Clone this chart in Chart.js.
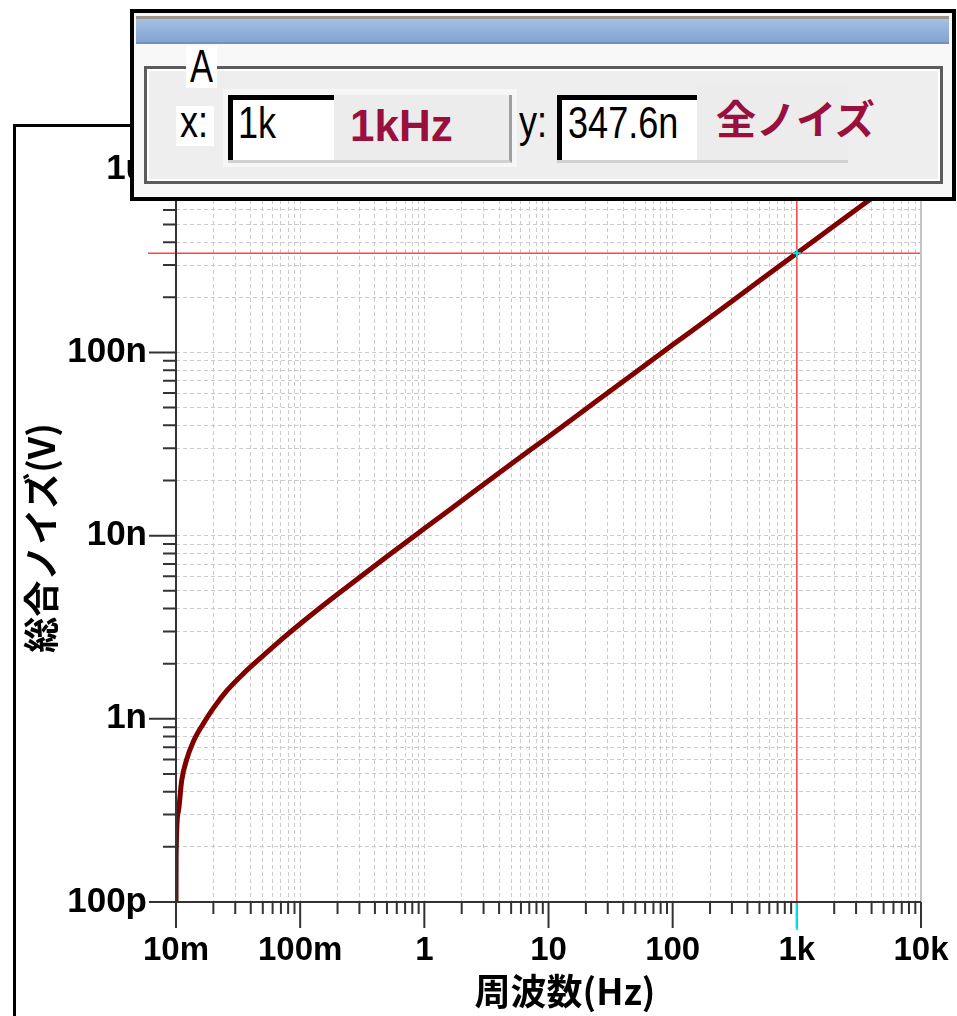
<!DOCTYPE html>
<html lang="ja">
<head>
<meta charset="utf-8">
<title>総合ノイズ</title>
<script src="https://cdn.jsdelivr.net/npm/chart.js@4.4.1/dist/chart.umd.min.js"></script>
<style>
  html, body { margin: 0; padding: 0; background: #fff; }
  body { width: 957px; height: 1016px; position: relative; overflow: hidden; font-family: "Liberation Sans", Arial, sans-serif; }
  #chart { position: absolute; left: 0; top: 0; }
  .abs { position: absolute; box-sizing: border-box; }
  .txt { position: absolute; line-height: 1; white-space: nowrap; transform-origin: 0 0; color: #000; }
  .mono { font-family: "Liberation Sans", Arial, sans-serif; font-size: 44px; transform: scaleX(0.82); }
  .red { color: #990f3d; font-weight: bold; }
</style>
</head>
<body>
<canvas id="chart" width="957" height="1016"></canvas>

<!-- outer frame of the graph window -->
<div class="abs" style="left:13px;top:124px;width:150px;height:900px;border-left:3px solid #000;border-top:3px solid #000;"></div>

<!-- cursor window -->
<div class="abs" style="left:130px;top:9px;width:826px;height:192px;border:4px solid #000;background:#f8f8f8;"></div>
<div class="abs" style="left:136px;top:16px;width:813px;height:28px;background:linear-gradient(#a6c0e2,#94b3da 45%,#84a4cf);border-top:3px solid #9d948c;border-bottom:2px solid #6f92c4;"></div>
<div class="abs" style="left:144px;top:66px;width:799px;height:118px;border:3px solid #5c5c5c;background:#eeeeee;box-shadow:inset 0 0 0 2px #fff;"></div>
<div class="abs" style="left:186px;top:46px;width:31px;height:42px;background:#fff;"></div>
<span class="txt mono" style="left:190px;top:43px;font-size:46px;transform:scaleX(0.75);">A</span>

<div class="abs" style="left:176px;top:106px;width:38px;height:40px;background:#fff;"></div>
<span class="txt mono" style="left:180px;top:100px;">x:</span>
<div class="abs" style="left:223px;top:89px;width:294px;height:78px;background:#f6f6f6;"></div>
<div class="abs" style="left:228px;top:95px;width:284px;height:68px;background:#ececec;border-right:3px solid #a0a0a0;border-bottom:3px solid #d0d0d0;"></div>
<div class="abs" style="left:228px;top:95px;width:106px;height:65px;background:#fff;border-left:5px solid #000;border-top:5px solid #000;"></div>
<span class="txt mono" style="left:238px;top:101px;">1k</span>
<span class="txt red" style="left:350px;top:104px;font-size:44px;">1kHz</span>

<span class="txt mono" style="left:519px;top:100px;">y:</span>
<div class="abs" style="left:697px;top:84px;width:151px;height:20px;background:#ececec;"></div>
<div class="abs" style="left:557px;top:95px;width:291px;height:68px;background:#ececec;border-bottom:3px solid #d0d0d0;"></div>
<div class="abs" style="left:557px;top:95px;width:140px;height:65px;background:#fff;border-left:5px solid #000;border-top:5px solid #000;"></div>
<span class="txt mono" style="left:568px;top:101px;">347.6n</span>
<span class="txt red" style="left:716px;top:97px;font-size:40px;font-family:'Noto Sans CJK JP',sans-serif;">全ノイズ</span>

<script>
// 全ノイズ (V) vs 周波数 (Hz)
const freqHz = [
  0.01, 0.01002, 0.01043, 0.01111, 0.01219, 0.01377, 0.01658, 0.01995,
  0.02558, 0.03478, 0.05038, 0.07776, 0.1197, 0.168, 0.2, 0.5,
  1, 2, 5, 10, 20, 50, 100, 200, 500, 1000, 2000, 5000, 10000,
];
const noiseV = [
  1.0e-10, 1.76e-10, 3.1e-10, 4.6e-10, 6.0e-10, 7.5e-10, 9.4e-10, 1.14e-9,
  1.42e-9, 1.76e-9, 2.21e-9, 2.86e-9, 3.64e-9, 4.37e-9, 4.79e-9, 7.69e-9,
  10.93e-9, 15.5e-9, 24.6e-9, 34.7e-9, 49.1e-9, 77.7e-9, 110e-9, 155e-9, 246e-9, 347.6e-9, 491e-9, 777e-9, 1.1e-6,
];

// axis decades and their labels
const xDecades = [0.01, 0.1, 1, 10, 100, 1000, 10000];
const xLabels = ['10m', '100m', '1', '10', '100', '1k', '10k'];
const yDecades = [1e-10, 1e-9, 1e-8, 1e-7, 1e-6];
const yLabels = ['100p', '1n', '10n', '100n', '1u'];
const yMax = 1.5e-6;

// cursor A
const cursorX = 1000;
const cursorY = 347.6e-9;

const xTitle = '周波数(Hz)';
const yTitle = '総合ノイズ(V)';

// 1..9 per decade for the log grid
function decadeTicks(decades) {
  const out = [];
  decades.forEach((d, i) => {
    if (i === decades.length - 1) { out.push(d); return; }
    for (let k = 1; k <= 9; k++) out.push(k * d);
  });
  return out;
}
const xTickVals = decadeTicks(xDecades);
const yTickVals = decadeTicks(yDecades);

const fontFamily = '"Liberation Sans", Arial, sans-serif';

// axis lines, tick marks, right border, cursor, titles
const axesPlugin = {
  id: 'axes',
  beforeDatasetsDraw(chart) {
    const { ctx, chartArea: a, scales: { x, y } } = chart;
    const px = x.getPixelForValue(cursorX);
    const py = y.getPixelForValue(cursorY);
    ctx.save();
    ctx.lineWidth = 1.5;
    ctx.strokeStyle = '#ff4545';
    ctx.beginPath();
    ctx.moveTo(a.left - 28, py); ctx.lineTo(a.right, py);
    ctx.moveTo(px, a.top); ctx.lineTo(px, a.bottom);
    ctx.stroke();
    ctx.restore();
  },
  afterDraw(chart) {
    const { ctx, chartArea: a, scales: { x, y } } = chart;
    ctx.save();
    // right border
    ctx.strokeStyle = '#c4c4c4';
    ctx.lineWidth = 2;
    ctx.beginPath(); ctx.moveTo(a.right, a.top); ctx.lineTo(a.right, a.bottom); ctx.stroke();

    ctx.strokeStyle = '#333';
    ctx.lineWidth = 2;
    ctx.beginPath();
    ctx.moveTo(a.left, a.top); ctx.lineTo(a.left, a.bottom); ctx.lineTo(a.right, a.bottom);
    x.ticks.forEach((t) => {
      const p = x.getPixelForValue(t.value);
      const len = xDecades.includes(t.value) ? 26 : 12;
      ctx.moveTo(p, a.bottom); ctx.lineTo(p, a.bottom + len);
    });
    y.ticks.forEach((t) => {
      const p = y.getPixelForValue(t.value);
      const len = yDecades.includes(t.value) ? 27 : 13;
      ctx.moveTo(a.left - len, p); ctx.lineTo(a.left, p);
    });
    ctx.stroke();

    // cursor on the axis + marker
    const px = x.getPixelForValue(cursorX);
    const py = y.getPixelForValue(cursorY);
    ctx.strokeStyle = '#00e5f0';
    ctx.lineWidth = 2;
    ctx.beginPath();
    ctx.moveTo(px, a.bottom + 1); ctx.lineTo(px, a.bottom + 28);
    ctx.moveTo(px - 4, py); ctx.lineTo(px + 4, py);
    ctx.moveTo(px, py - 4); ctx.lineTo(px, py + 4);
    ctx.stroke();

    // titles
    ctx.fillStyle = '#000';
    ctx.font = 'bold 36px "Noto Sans CJK JP", sans-serif';
    ctx.textAlign = 'center';
    ctx.textBaseline = 'middle';
    ctx.fillText(xTitle, 565, 991);
    ctx.translate(41, 538);
    ctx.rotate(-Math.PI / 2);
    ctx.fillText(yTitle, 0, 0);
    ctx.restore();
  },
};

const gridOpts = { color: '#cbcbcb', lineWidth: 1, drawTicks: false };

new Chart(document.getElementById('chart'), {
  type: 'line',
  data: {
    datasets: [{
      data: freqHz.map((f, i) => ({ x: f, y: noiseV[i] })),
      borderColor: '#800000',
      borderWidth: 5,
      pointRadius: 0,
      cubicInterpolationMode: 'monotone',
    }],
  },
  options: {
    responsive: false,
    animation: false,
    devicePixelRatio: 1,
    layout: { padding: { top: 137, left: 20, right: 36, bottom: 0 } },
    plugins: { legend: { display: false }, tooltip: { enabled: false } },
    scales: {
      x: {
        type: 'logarithmic',
        min: xDecades[0],
        max: xDecades[xDecades.length - 1],
        afterBuildTicks: (s) => { s.ticks = xTickVals.map((v) => ({ value: v })); },
        afterFit: (s) => { s.height = 114; s.paddingLeft = 0; s.paddingRight = 0; },
        grid: gridOpts,
        border: { display: false, dash: [4, 3] },
        ticks: {
          autoSkip: false, maxRotation: 0, minRotation: 0, padding: 29,
          color: '#000', font: { family: fontFamily, size: 33, weight: 'bold' },
          callback: (v) => { const i = xDecades.indexOf(v); return i >= 0 ? xLabels[i] : ''; },
        },
      },
      y: {
        type: 'logarithmic',
        min: yDecades[0],
        max: yMax,
        afterBuildTicks: (s) => { s.ticks = yTickVals.map((v) => ({ value: v })); },
        afterFit: (s) => { s.width = 156; s.paddingTop = 0; s.paddingBottom = 0; },
        grid: gridOpts,
        border: { display: false, dash: [4, 3] },
        ticks: {
          autoSkip: false, padding: 29,
          color: '#000', font: { family: fontFamily, size: 35, weight: 'bold' },
          callback: (v) => { const i = yDecades.indexOf(v); return i >= 0 ? yLabels[i] : ''; },
        },
      },
    },
  },
  plugins: [axesPlugin],
});
</script>
</body>
</html>
